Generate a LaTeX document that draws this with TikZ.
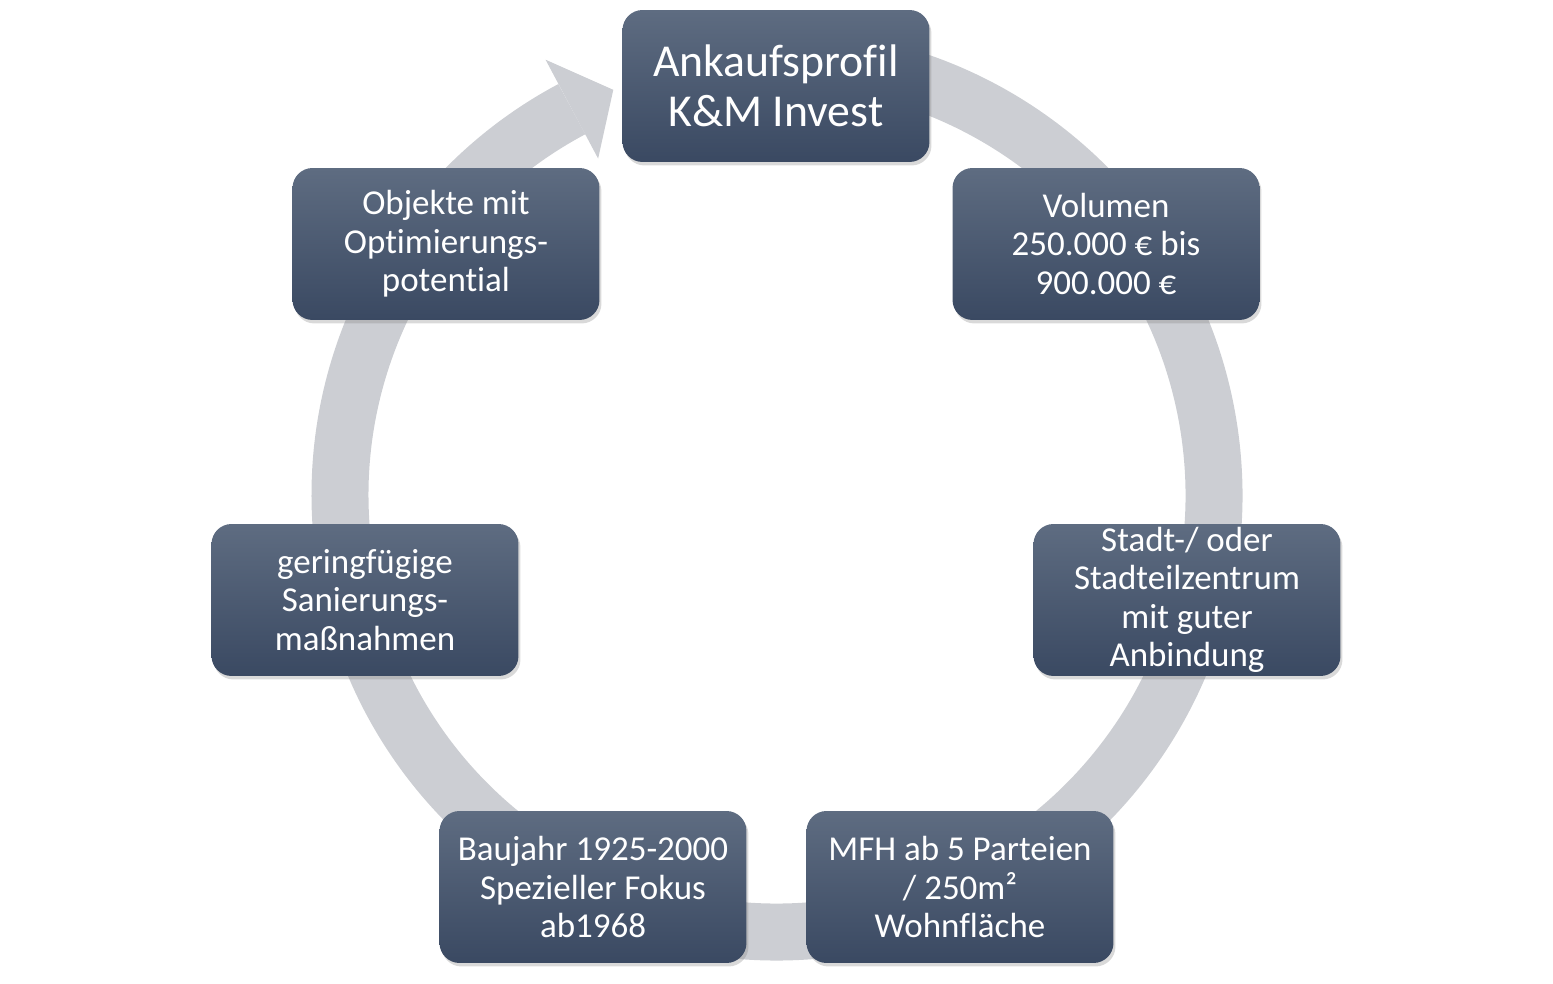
\documentclass[tikz,border=0pt]{standalone}
\usepackage{fontspec}
\setmainfont{Carlito}[Ligatures=NoCommon]
\usetikzlibrary{shadows,calc}
\definecolor{ringgray}{RGB}{204,206,211}
\definecolor{boxtop}{RGB}{94,108,129}
\definecolor{boxbot}{RGB}{58,73,98}
\tikzset{
  kmbox/.style={rounded corners=0.4cm,minimum width=6.14cm,minimum height=3.04cm,inner sep=0pt,
    top color=boxtop,bottom color=boxbot,text=white,align=center,
    drop shadow={opacity=0.3,shadow xshift=0.04cm,shadow yshift=-0.07cm},
    font=\fontsize{19.9}{21.9}\selectfont},
  kmring/.style={ringgray,line width=1.14cm}
}
\begin{document}
\begin{tikzpicture}[x=0.02cm,y=0.02cm]
\useasboundingbox (0,0) rectangle (1553,984);
\coordinate (c) at (777,489);
\draw[kmring] (c) ++(98:437) arc[start angle=98,end angle=-242,radius=437];
\fill[ringgray] ($(c)+(118:381)$) -- ($(c)+(112:437)$) -- ($(c)+(118:493)$) -- cycle;
\node[kmbox,font=\fontsize{26}{28.5}\selectfont] (profil) at (776,898) {Ankaufsprofil\\K\&M Invest};
\node[kmbox] (volumen) at (1106,740) {Volumen\\250.000 € bis\\900.000 €};
\node[kmbox] (lage) at (1187,384) {Stadt-/ oder\\Stadteilzentrum\\mit guter\\Anbindung};
\node[kmbox] (mfh) at (960,97) {MFH ab 5 Parteien\\/ 250m²\\Wohnfläche};
\node[kmbox] (baujahr) at (593,97) {Baujahr 1925-2000\\Spezieller Fokus\\ab1968};
\node[kmbox] (sanierung) at (365,384) {geringfügige\\Sanierungs-\\maßnahmen};
\node[kmbox] (objekte) at (446,740) {Objekte mit\\Optimierungs-\\potential};
\end{tikzpicture}
\end{document}
